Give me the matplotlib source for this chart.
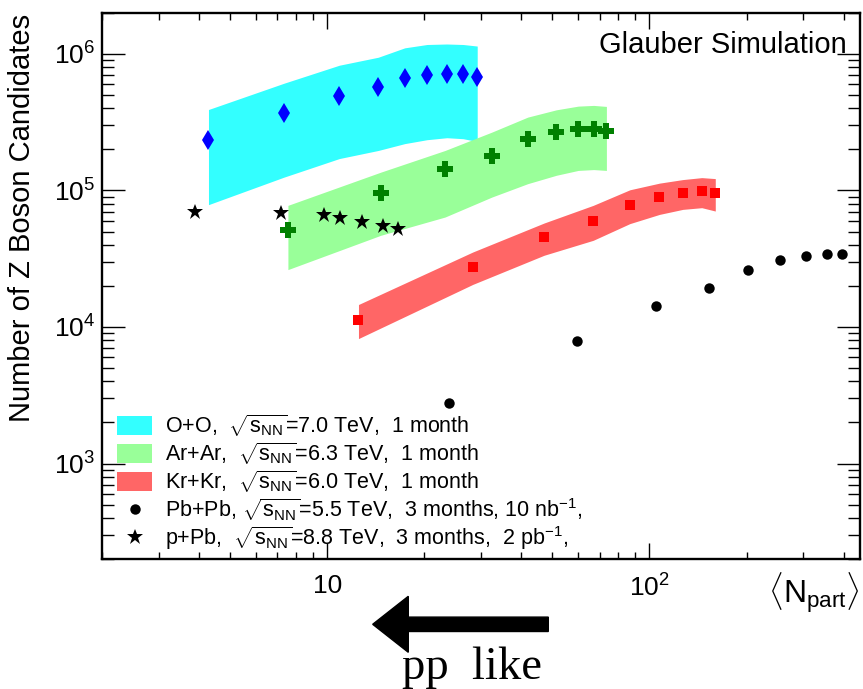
import numpy as np
import matplotlib
matplotlib.use('Agg')
from matplotlib import pyplot as plt
from matplotlib import patches, transforms

plt.rcParams['font.family'] = ['Liberation Sans', 'DejaVu Sans']
plt.rcParams['mathtext.fontset'] = 'custom'
plt.rcParams['mathtext.rm'] = 'Liberation Sans'
plt.rcParams['mathtext.it'] = 'Liberation Sans:italic'
plt.rcParams['mathtext.bf'] = 'Liberation Sans:bold'

# O+O
oo_npart = [4.28, 7.34, 10.9, 14.4, 17.4, 20.4, 23.5, 26.4, 29.2]
oo_nz = [2.35e5, 3.70e5, 4.95e5, 5.74e5, 6.67e5, 7.02e5, 7.14e5, 7.06e5, 6.79e5]
oo_lo = [7.86e4, 1.25e5, 1.71e5, 1.96e5, 2.20e5, 2.35e5, 2.43e5, 2.39e5, 2.28e5]
oo_hi = [3.91e5, 6.09e5, 8.25e5, 9.44e5, 1.106e6, 1.17e6, 1.18e6, 1.17e6, 1.14e6]

# Ar+Ar
arar_npart = [7.55, 14.66, 23.2, 32.4, 41.9, 51.4, 60.1, 67.1, 73.5]
arar_nz = [5.10e4, 9.59e4, 1.43e5, 1.80e5, 2.36e5, 2.67e5, 2.83e5, 2.80e5, 2.72e5]
arar_lo = [2.63e4, 4.69e4, 6.38e4, 8.93e4, 1.12e5, 1.29e5, 1.40e5, 1.42e5, 1.40e5]
arar_hi = [7.77e4, 1.36e5, 1.96e5, 2.67e5, 3.44e5, 3.89e5, 4.14e5, 4.19e5, 4.12e5]

# Kr+Kr
krkr_npart = [12.5, 28.3, 47.1, 66.9, 86.9, 107.4, 126.9, 145.3, 160]
krkr_nz = [1.13e4, 2.75e4, 4.55e4, 5.95e4, 7.83e4, 8.93e4, 9.55e4, 9.83e4, 9.62e4]
krkr_lo = [8.22e3, 2.05e4, 3.35e4, 4.31e4, 5.71e4, 6.67e4, 7.26e4, 7.47e4, 7.06e4]
krkr_hi = [1.46e4, 3.54e4, 5.77e4, 7.77e4, 1.01e5, 1.13e5, 1.20e5, 1.24e5, 1.22e5]

# Pb+Pb
pbpb_npart = [23.9, 59.7, 104.9, 152.5, 202, 254.6, 306.7, 355.3, 395.6]
pbpb_nz = [2.78e3, 7.86e3, 1.42e4, 1.94e4, 2.63e4, 3.08e4, 3.33e4, 3.44e4, 3.44e4]

# p+Pb
ppb_npart = [3.89, 7.18, 9.79, 10.95, 12.78, 14.92, 16.6]
ppb_nz = [6.94e4, 6.82e4, 6.56e4, 6.31e4, 5.90e4, 5.45e4, 5.25e4]

labels = [r'O+O,  $\sqrt{\mathrm{s}_{\mathrm{NN}}}$=7.0 TeV,  1 month',
          r'Ar+Ar,  $\sqrt{\mathrm{s}_{\mathrm{NN}}}$=6.3 TeV,  1 month',
          r'Kr+Kr,  $\sqrt{\mathrm{s}_{\mathrm{NN}}}$=6.0 TeV,  1 month',
          r'Pb+Pb, $\sqrt{\mathrm{s}_{\mathrm{NN}}}$=5.5 TeV,  3 months, 10 nb$^{\mathrm{-1}}$,',
          r'p+Pb,  $\sqrt{\mathrm{s}_{\mathrm{NN}}}$=8.8 TeV,  3 months,  2 pb$^{\mathrm{-1}}$,']

xticks = [10, 100]
xticklabels = ['10', r'$10^{2}$']
yticks = [1e3, 1e4, 1e5, 1e6]
yticklabels = [r'$10^{3}$', r'$10^{4}$', r'$10^{5}$', r'$10^{6}$']

fig = plt.figure(figsize=(8.63, 6.89), dpi=100)
ax = fig.add_axes([102/863., 1-559/689., 758/863., 546.3/689.])

h_oo = ax.fill_between(oo_npart, oo_lo, oo_hi, color='#33ffff', lw=0)
h_ar = ax.fill_between(arar_npart, arar_lo, arar_hi, color='#99ff99', lw=0)
h_kr = ax.fill_between(krkr_npart, krkr_lo, krkr_hi, color='#ff6666', lw=0)

ax.plot(oo_npart, oo_nz, 'd', color='#0000ff', ms=10.5, mew=0)
ax.plot(arar_npart, arar_nz, 'P', color='#008000', ms=11.5, mew=0)
ax.plot(krkr_npart, krkr_nz, 's', color='#ff0000', ms=6.5, mew=0)
h_pb, = ax.plot(pbpb_npart, pbpb_nz, 'o', color='black', ms=7.5, mew=0)
h_p, = ax.plot(ppb_npart, ppb_nz, '*', color='black', ms=12, mew=0)

ax.set_xscale('log')
ax.set_yscale('log')
ax.set_xlim(2, 450)
ax.set_ylim(200, 2e6)

ax.set_xticks(xticks)
ax.set_xticklabels(xticklabels)
ax.set_yticks(yticks)
ax.set_yticklabels(yticklabels)
ax.xaxis.set_minor_locator(matplotlib.ticker.LogLocator(subs=np.arange(2, 10)))
ax.yaxis.set_minor_locator(matplotlib.ticker.LogLocator(subs=np.arange(2, 10), numticks=20))
ax.xaxis.set_minor_formatter(matplotlib.ticker.NullFormatter())
ax.yaxis.set_minor_formatter(matplotlib.ticker.NullFormatter())

ax.tick_params(which='both', direction='in', top=True, right=True, width=1, labelsize=19)
ax.tick_params(axis='x', which='major', length=11.5, pad=11)
ax.tick_params(axis='x', which='minor', length=5)
ax.tick_params(axis='y', which='major', length=16.5, pad=5)
ax.tick_params(axis='y', which='minor', length=8.5)
for s in ax.spines.values():
    s.set_linewidth(1.7)

ax.set_ylabel('Number of Z Boson Candidates', fontsize=21)
ax.yaxis.set_label_coords(-0.087, 0.624)

ax.text(0.983, 0.926, 'Glauber Simulation', transform=ax.transAxes,
        ha='right', va='baseline', fontsize=21)

fig.text(860/863., 1-570/689., r'$\langle\mathrm{N}_{\mathrm{part}}\rangle$',
         ha='right', va='top', fontsize=23)

leg = ax.legend([h_oo, h_ar, h_kr, h_pb, h_p], labels, loc='lower left',
                bbox_to_anchor=(0.02, 0.012), frameon=False, fontsize=15.5,
                handlelength=1.63, handleheight=0.98, handletextpad=0.6,
                labelspacing=0.08, borderpad=0, borderaxespad=0, numpoints=1)

# arrow + text under the axis
arr = patches.FancyArrow(548.3, 64.7, -175.6, 0, width=14.4, head_width=56,
                         head_length=35.6, length_includes_head=True,
                         color='black', transform=transforms.IdentityTransform())
fig.add_artist(arr)
fig.text(401.7/863., 9.7/689., 'pp  like', family='Liberation Serif',
         fontsize=33.6, ha='left', va='baseline')

plt.savefig('out.png', dpi=100)
